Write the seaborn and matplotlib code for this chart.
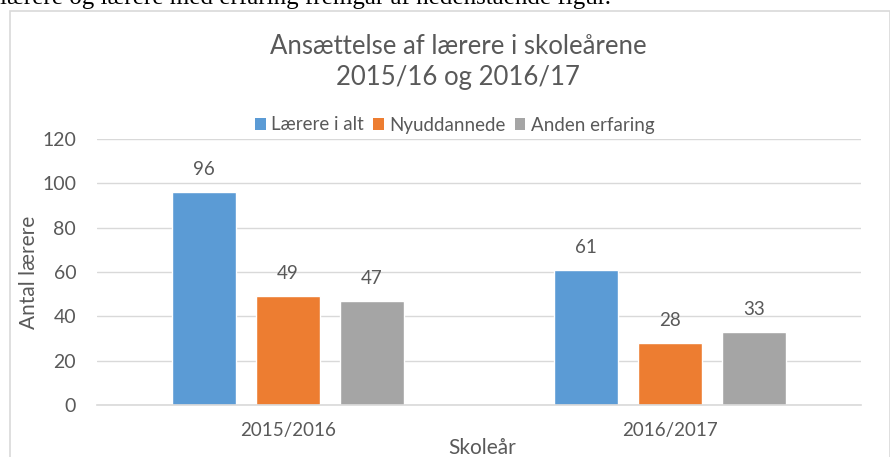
#!/usr/bin/env python3
"""Ansættelse af lærere i skoleårene 2015/16 og 2016/17 - grouped bar chart."""
import matplotlib
matplotlib.use("Agg")
import matplotlib.pyplot as plt
from matplotlib.patches import Rectangle, Patch
import pandas as pd
import seaborn as sns

# data
skoleaar = ["2015/2016", "2016/2017"]
serier = ["Lærere i alt", "Nyuddannede", "Anden erfaring"]
laerere_i_alt = [96, 61]
nyuddannede = [49, 28]
anden_erfaring = [47, 33]
y_ticks = [0, 20, 40, 60, 80, 100, 120]

farver = ["#5B9BD5", "#ED7D31", "#A5A5A5"]
TXT = "#595959"
GRID = "#D9D9D9"

sns.set_theme(style="white")
plt.rcParams["font.family"] = ["Lato", "DejaVu Sans"]

df = pd.DataFrame({
    "Skoleår": skoleaar * 3,
    "serie": [s for s in serier for _ in skoleaar],
    "antal": laerere_i_alt + nyuddannede + anden_erfaring,
})

W, H = 890, 457
fig = plt.figure(figsize=(W / 100, H / 100), dpi=100)
ax = fig.add_axes([97 / W, 1 - 405 / H, (861 - 97) / W, (405 - 139) / H])

sns.barplot(data=df, x="Skoleår", y="antal", hue="serie", hue_order=serier,
            order=skoleaar, palette=farver, width=0.66, gap=0.23,
            saturation=1, ax=ax)

for c in ax.containers:
    ax.bar_label(c, padding=10, fontsize=13.5, color=TXT)

ax.set_ylim(0, 120)
ax.set_yticks(y_ticks)
ax.yaxis.grid(True, color=GRID, lw=1)
ax.set_axisbelow(True)
for s in ["top", "right", "left"]:
    ax.spines[s].set_visible(False)
ax.spines["bottom"].set_color(GRID)
ax.spines["bottom"].set_linewidth(1.2)
ax.tick_params(axis="y", length=0, pad=15, labelsize=14, labelcolor=TXT)
ax.tick_params(axis="x", length=0, pad=12, labelsize=13.5, labelcolor=TXT)
ax.set_xlabel("")
ax.set_ylabel("")

# remove the seaborn legend, rebuild Excel style above the plot
ax.get_legend().remove()
handles = [Patch(facecolor=f, edgecolor="none") for f in farver]
fig.legend(handles, serier, loc="center", bbox_to_anchor=(455 / W, 1 - 125 / H),
           ncol=3, frameon=False, fontsize=13.5, labelcolor=TXT,
           handlelength=0.55, handleheight=0.55, handletextpad=0.3, columnspacing=0.5)

fig.text(458 / W, 1 - 46 / H, "Ansættelse af lærere i skoleårene", ha="center", va="center",
         fontsize=18.5, color=TXT)
fig.text(458 / W, 1 - 77 / H, "2015/16 og 2016/17", ha="center", va="center",
         fontsize=18.5, color=TXT)
fig.text(482 / W, 1 - 448 / H, "Skoleår", ha="center", va="center", fontsize=15, color=TXT)
fig.text(29 / W, 1 - 272 / H, "Antal lærere", ha="center", va="center", rotation=90,
         fontsize=15, color=TXT)

# chart frame and the cut-off sentence from the page above it
fig.patches.append(Rectangle((10 / W, -0.1), (W - 10) / W, 1.1 - 11 / H, transform=fig.transFigure,
                             fill=False, edgecolor=GRID, lw=1.2))
fig.text(0, 1 - 4 / H, "lærere og lærere med erfaring fremgår af nedenstående figur.",
         ha="left", va="baseline", fontsize=18, color="black", family="Liberation Serif")

fig.savefig("out.png", dpi=100, facecolor="white")
